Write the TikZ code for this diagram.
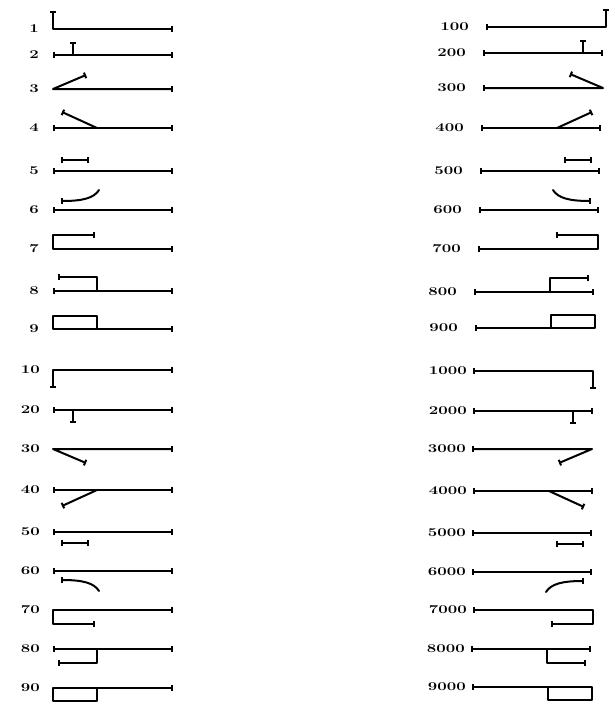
\documentclass[tikz,border=0pt]{standalone}
\usetikzlibrary{arrows.meta}
\tikzset{
    stroke/.style={line width=2pt,line cap=round,line join=round},
    endbar/.style={-{Bar[width=6pt]}},
    startbar/.style={{Bar[width=6pt]}-},
    bothbars/.style={{Bar[width=6pt]}-{Bar[width=6pt]}},
    numlabel/.style={anchor=east,inner sep=0pt,font=\bfseries\fontsize{14}{14}\selectfont},
    % one digit on a stem of length 120; the stem end is at the origin
    cis1/.pic={\draw[stroke,bothbars] (120,0) -- (0,0) -- (0,-18);},
    cis2/.pic={\draw[stroke,bothbars] (0,0) -- (120,0);
        \draw[stroke,endbar] (20,0) -- (20,-13);},
    cis3/.pic={\draw[stroke,bothbars] (120,0) -- (0,0) -- (33,-14);},
    cis4/.pic={\draw[stroke,bothbars] (0,0) -- (120,0);
        \draw[stroke,endbar] (44,0) -- (9,-16);},
    cis5/.pic={\draw[stroke,bothbars] (0,0) -- (120,0);
        \draw[stroke,bothbars] (8,-11) -- (36,-11);},
    cis6/.pic={\draw[stroke,bothbars] (0,0) -- (120,0);
        \draw[stroke,startbar] (8,-9) .. controls (30,-9) and (41,-12) .. (46,-20);},
    cis7/.pic={\draw[stroke,bothbars] (120,0) -- (0,0) -- (0,-14) -- (42,-14);},
    cis8/.pic={\draw[stroke,bothbars] (0,0) -- (120,0);
        \draw[stroke,endbar] (44,0) -- (44,-14) -- (5,-14);},
    cis9/.pic={\draw[stroke,endbar] (44,0) -- (44,-13) -- (0,-13) -- (0,0) -- (120,0);},
}
\newcommand{\wide}[1]{\scalebox{1.2}[0.85]{#1}}
\begin{document}
\begin{tikzpicture}[x=1pt,y=-1pt]
    \useasboundingbox (0,0) rectangle (609,702);
    % units: left end, above the stem
    \foreach \d/\y in {1/29,2/55,3/89,4/128,5/171,6/210,7/249,8/291,9/329}{
        \pic at (53,\y) {cis\d};
        \node[numlabel] (u\d) at (39,\y) {\wide{\d}};
    }
    % tens: left end, below the stem
    \foreach \d/\y in {1/370,2/410,3/449,4/490,5/532,6/571,7/610,8/649,9/688}{
        \pic[yscale=-1] at (53,\y) {cis\d};
        \node[numlabel] (t\d) at (40,\y) {\wide{\d0}};
    }
    % hundreds: right end, above the stem
    \foreach \d/\y/\x in {1/27/606,2/53/603,3/88/603,4/128/601,5/171/600,6/210/599,7/249/598,8/292/594,9/328/595}{
        \pic[xscale=-1] at (\x,\y) {cis\d};
        \node[numlabel] (h\d) at (\x-137,\y) {\wide{\d00}};
    }
    % thousands: right end, below the stem
    \foreach \d/\y/\x in {1/371/593,2/411/593,3/449/592,4/491/593,5/533/592,6/572/592,7/610/593,8/649/591,9/687/592}{
        \pic[xscale=-1,yscale=-1] at (\x,\y) {cis\d};
        \node[numlabel] (k\d) at (\x-126,\y) {\wide{\d000}};
    }
\end{tikzpicture}
\end{document}
